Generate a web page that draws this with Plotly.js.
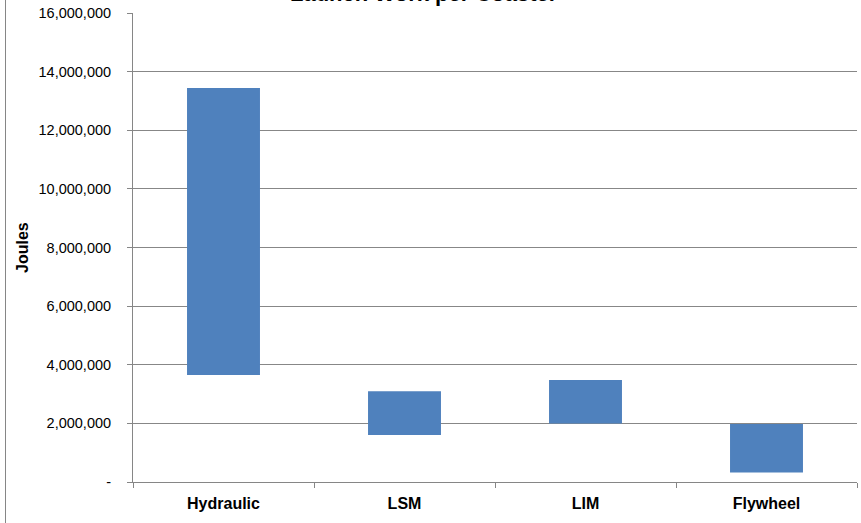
<!DOCTYPE html>
<html>
<head>
<meta charset="utf-8">
<script src="https://cdn.plot.ly/plotly-3.0.1.min.js"></script>
<style>html,body{margin:0;padding:0;background:#fff;}#chart{width:861px;height:523px;}</style>
</head>
<body>
<div id="chart"></div>
<script>
const categories = ['Hydraulic', 'LSM', 'LIM', 'Flywheel'];
const lowValues = [3650000, 1600000, 2000000, 320000];
const highValues = [13440000, 3100000, 3480000, 1980000];
const yTickVals = [0, 2000000, 4000000, 6000000, 8000000, 10000000, 12000000, 14000000, 16000000];
const yTickText = ['-', '2,000,000', '4,000,000', '6,000,000', '8,000,000', '10,000,000', '12,000,000', '14,000,000', '16,000,000'];
const chartTitle = 'Launch Work per Coaster';
const yTitle = 'Joules';

const FONT = 'Liberation Sans, Arial, sans-serif';
const plotW = 724, plotH = 469;

const trace = {
  type: 'bar',
  x: categories,
  y: highValues.map((h, i) => h - lowValues[i]),
  base: lowValues,
  marker: {color: '#4F81BD', line: {width: 0}},
  hoverinfo: 'none'
};

const layout = {
  width: 861, height: 523,
  margin: {l: 133, r: 4, t: 13, b: 41, pad: 0},
  paper_bgcolor: '#fff', plot_bgcolor: '#fff',
  showlegend: false,
  bargap: 0.597,
  font: {family: FONT, color: '#000'},
  xaxis: {
    type: 'category',
    showgrid: false,
    showline: true, linecolor: '#868686', linewidth: 1,
    ticks: 'outside', ticklen: 5, tickcolor: '#868686',
    tickson: 'boundaries',
    tickfont: {family: FONT, size: 16, color: '#000', weight: 'bold'},
    ticklabelstandoff: 7,
    zeroline: false,
    fixedrange: true
  },
  yaxis: {
    range: [0, 16000000],
    tickvals: yTickVals, ticktext: yTickText,
    showgrid: true, gridcolor: '#878787', gridwidth: 1,
    showline: true, linecolor: '#868686', linewidth: 1,
    ticks: 'outside', ticklen: 5, tickcolor: '#868686',
    tickfont: {family: FONT, size: 14.5, color: '#000'},
    ticklabelstandoff: 13,
    zeroline: false,
    fixedrange: true
  },
  annotations: [
    {text: '<b>' + chartTitle + '</b>', xref: 'paper', yref: 'paper',
     x: (424 - 133) / plotW, y: 1 + 5 / plotH, xanchor: 'center', yanchor: 'bottom',
     showarrow: false, font: {family: FONT, size: 22, color: '#000'}},
    {text: '<b>' + yTitle + '</b>', xref: 'paper', yref: 'paper',
     x: (22 - 133) / plotW, y: (482 - 248) / plotH, xanchor: 'center', yanchor: 'middle',
     textangle: -90, showarrow: false, font: {family: FONT, size: 16, color: '#000'}}
  ],
  shapes: [
    {type: 'line', xref: 'paper', yref: 'paper',
     x0: (5.5 - 133) / plotW, x1: (5.5 - 133) / plotW, y0: -41 / plotH, y1: 1 + 13 / plotH,
     line: {color: '#868686', width: 1}}
  ]
};

Plotly.newPlot('chart', [trace], layout, {displayModeBar: false, staticPlot: true});
</script>
</body>
</html>
